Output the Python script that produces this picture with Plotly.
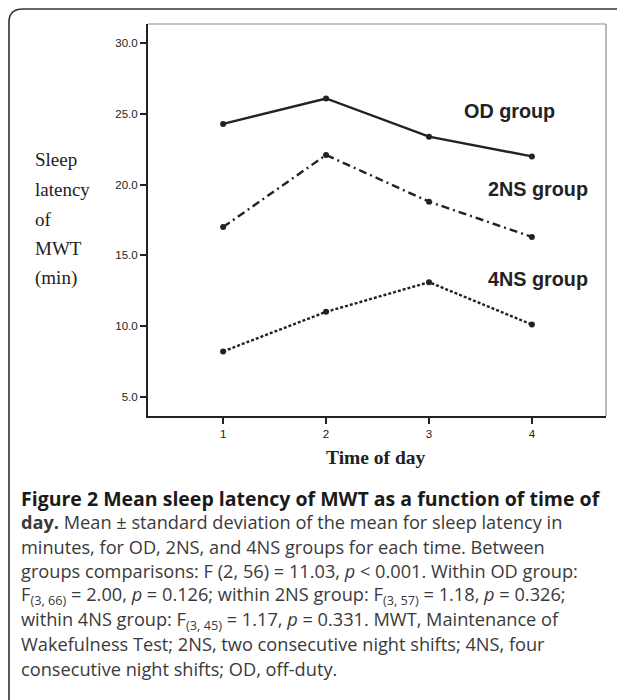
import plotly.graph_objects as go

times = [1, 2, 3, 4]
od_group = [24.3, 26.1, 23.4, 22.0]
ns2_group = [17.0, 22.1, 18.8, 16.3]
ns4_group = [8.2, 11.0, 13.1, 10.1]
y_ticks = [5.0, 10.0, 15.0, 20.0, 25.0, 30.0]
y_tick_labels = ["5.0", "10.0", "15.0", "20.0", "25.0", "30.0"]
x_ticks = [1, 2, 3, 4]
x_tick_labels = ["1", "2", "3", "4"]
group_labels = ["OD group", "2NS group", "4NS group"]
ylabel_lines = ["Sleep", "latency", "of", "MWT", "(min)"]
caption_lines = [
    "<b>Figure 2 Mean sleep latency of MWT as a function of time of</b>",
    "<b>day.</b> Mean ± standard deviation of the mean for sleep latency in",
    "minutes, for OD, 2NS, and 4NS groups for each time. Between",
    "groups comparisons: F (2, 56) = 11.03, <i>p</i> &lt; 0.001. Within OD group:",
    "F<sub>(3, 66)</sub> = 2.00, <i>p</i> = 0.126; within 2NS group: F<sub>(3, 57)</sub> = 1.18, <i>p</i> = 0.326;",
    "within 4NS group: F<sub>(3, 45)</sub> = 1.17, <i>p</i> = 0.331. MWT, Maintenance of",
    "Wakefulness Test; 2NS, two consecutive night shifts; 4NS, four",
    "consecutive night shifts; OD, off-duty.",
]

OFF = 8  # page body margin
W, H = 625 - OFF, 700 - OFF
L, R, T, B = 148 - OFF, 19, 24 - OFF, 284
PW, PH = W - L - R, H - T - B


def px(x):
    return (x - OFF - L) / PW


def py(y):
    return 1 - (y - OFF - T) / PH


fig = go.Figure()
line_col = "#222222"
styles = [("solid", od_group), ("8px,4px,2px,4px", ns2_group), ("3px,2px", ns4_group)]
for name, (dash, vals) in zip(group_labels, styles):
    fig.add_trace(go.Scatter(
        x=times, y=vals, mode="lines+markers", name=name,
        line=dict(color=line_col, width=2.4, dash=dash),
        marker=dict(color=line_col, size=6),
        showlegend=False,
    ))

annotations = []
label_pos = [(3.32, 25.2), (3.55, 19.67), (3.55, 13.35)]
for txt, (lx, ly) in zip(group_labels, label_pos):
    annotations.append(dict(
        x=lx, y=ly, xref="x", yref="y", text=f"<b>{txt}</b>", showarrow=False,
        xanchor="left", yanchor="middle",
        font=dict(family="Liberation Sans, Arial, sans-serif", size=19.8, color="#222222"),
    ))

for i, t in enumerate(ylabel_lines):
    annotations.append(dict(
        x=px(33), y=py(160 + 29.5 * i), xref="paper", yref="paper", text=t,
        showarrow=False, xanchor="left", yanchor="middle",
        font=dict(family="Liberation Serif, Times New Roman, serif", size=19, color="#222222"),
    ))

annotations.append(dict(
    x=px(376), y=py(457), xref="paper", yref="paper", text="<b>Time of day</b>",
    showarrow=False, xanchor="center", yanchor="middle",
    font=dict(family="Liberation Serif, Times New Roman, serif", size=19.5, color="#222222"),
))

for i, t in enumerate(caption_lines):
    col = "#1a1a1a" if i == 0 else "#3a3a3a"
    size = 19.5 if i == 0 else 18.2
    annotations.append(dict(
        x=px(19), y=py(498 + 24.4 * i), xref="paper", yref="paper", text=t,
        showarrow=False, xanchor="left", yanchor="middle",
        font=dict(family="Open Sans, sans-serif", size=size, color=col),
    ))

shapes = [
    dict(type="line", xref="paper", yref="paper", x0=0, x1=1, y0=1, y1=1,
         line=dict(color="#8a8a8a", width=1.2)),
    dict(type="line", xref="paper", yref="paper", x0=1, x1=1, y0=0, y1=1,
         line=dict(color="#8a8a8a", width=1.2)),
    dict(type="path", xref="paper", yref="paper",
         path=(f"M {px(9)},{py(700)} L {px(9)},{py(22)} "
               f"Q {px(9)},{py(9)} {px(23)},{py(9)} L {px(625)},{py(9)}"),
         line=dict(color="#333333", width=1.6)),
]

fig.update_layout(
    width=W, height=H,
    margin=dict(l=L, r=R, t=T, b=B),
    paper_bgcolor="white", plot_bgcolor="white",
    annotations=annotations, shapes=shapes,
    xaxis=dict(
        range=[0.27, 4.72], tickvals=x_ticks, ticktext=x_tick_labels,
        showgrid=False, zeroline=False, showline=True, linecolor="#222222", linewidth=2,
        ticks="outside", ticklen=6, tickwidth=1.5, tickcolor="#222222",
        tickfont=dict(family="Liberation Sans, Arial, sans-serif", size=11.5, color="#222222"),
    ),
    yaxis=dict(
        range=[3.63, 31.37], tickvals=y_ticks, ticktext=y_tick_labels,
        showgrid=False, zeroline=False, showline=True, linecolor="#222222", linewidth=2,
        ticks="outside", ticklen=6, tickwidth=1.5, tickcolor="#222222",
        tickfont=dict(family="Liberation Sans, Arial, sans-serif", size=11.5, color="#222222"),
    ),
)

fig.write_html("out.html")
